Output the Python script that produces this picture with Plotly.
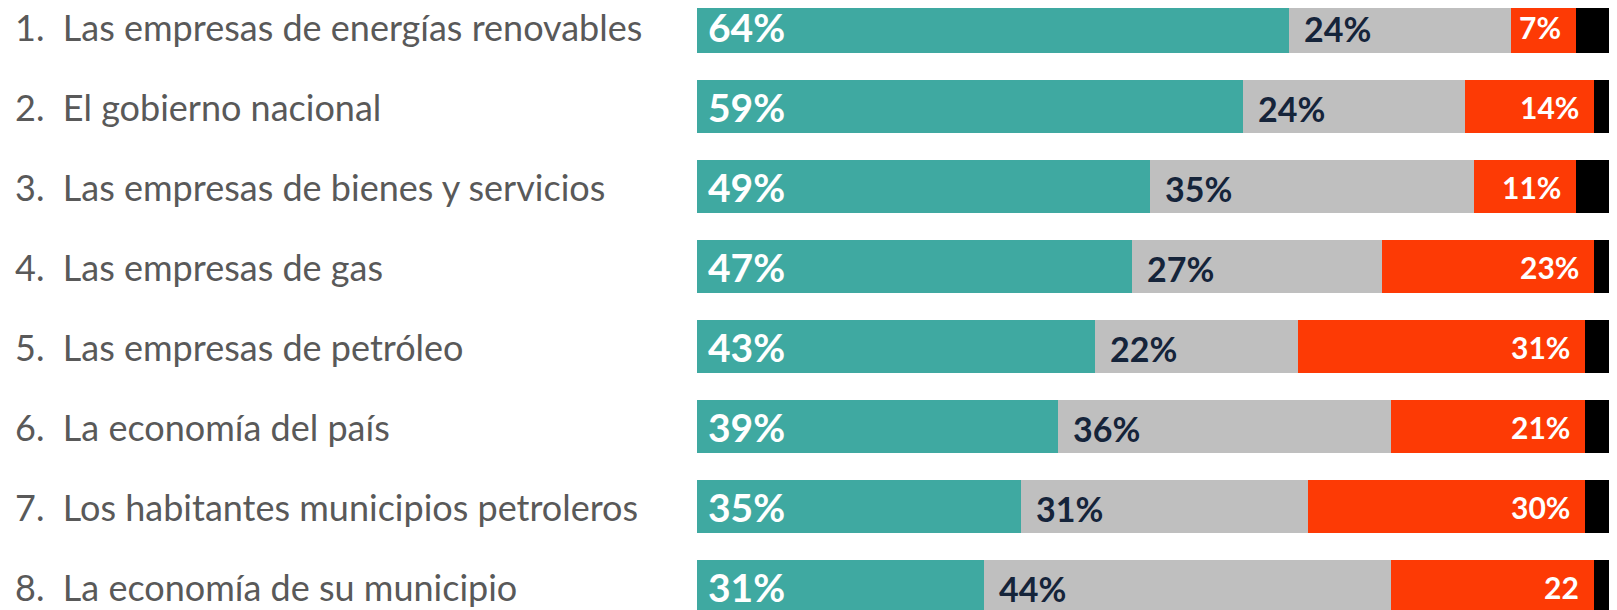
import plotly.graph_objects as go

# Items (top to bottom) and their shares in %
labels = [
    "1.  Las empresas de energías renovables",
    "2.  El gobierno nacional",
    "3.  Las empresas de bienes y servicios",
    "4.  Las empresas de gas",
    "5.  Las empresas de petróleo",
    "6.  La economía del país",
    "7.  Los habitantes municipios petroleros",
    "8.  La economía de su municipio",
]
positive = [64, 59, 49, 47, 43, 39, 35, 31]
neutral = [24, 24, 35, 27, 22, 36, 31, 44]
negative = [7, 14, 11, 23, 31, 21, 30, 22]
no_answer = [5, 3, 5, 3, 4, 4, 4, 3]
negative_text = ["7%", "14%", "11%", "23%", "31%", "21%", "30%", "22"]

TEAL = "#3FA9A1"
GREY = "#BFBFBF"
RED = "#FD3A05"
BLACK = "#000000"
NAVY = "#15243A"

rows = list(range(len(labels)))
bar_w = 0.6625

fig = go.Figure()
for vals, color in [(positive, TEAL), (neutral, GREY), (negative, RED), (no_answer, BLACK)]:
    fig.add_trace(go.Bar(
        y=rows, x=vals, orientation="h", width=bar_w,
        marker=dict(color=color, line=dict(width=0)),
        hoverinfo="skip", showlegend=False,
    ))

annotations = []
for i in rows:
    # left-hand item labels
    annotations.append(dict(
        x=-(689 - 5) / 920, y=i, xref="paper", yref="y",
        text=labels[i], showarrow=False, xanchor="left", yanchor="middle",
        font=dict(family="Lato", size=36, color="#595959"),
    ))
    # positive share, white, left inside the teal part
    annotations.append(dict(
        x=0, y=i, xref="x", yref="y", xanchor="left", yanchor="middle",
        xshift=9, text=f"{positive[i]}%", showarrow=False,
        font=dict(family="Lato", size=39, color="white", weight="bold"),
    ))
    # neutral share, navy, left inside the grey part
    annotations.append(dict(
        x=positive[i], y=i, xref="x", yref="y", xanchor="left", yanchor="middle",
        xshift=13, yshift=-2, text=f"{neutral[i]}%", showarrow=False,
        font=dict(family="Lato", size=34, color=NAVY, weight="bold"),
    ))
    # negative share, white, right inside the red part
    annotations.append(dict(
        x=positive[i] + neutral[i] + negative[i], y=i, xref="x", yref="y",
        xanchor="right", yanchor="middle", xshift=-13, text=negative_text[i],
        showarrow=False,
        font=dict(family="Lato", size=30, color="white", weight="bold"),
    ))

# the page adds an 8px body margin, so the figure is 8px smaller each way
fig.update_layout(
    barmode="stack",
    width=1609, height=602,
    margin=dict(l=689, r=0, t=0, b=0),
    paper_bgcolor="white", plot_bgcolor="white",
    bargap=0,
    xaxis=dict(range=[0, 920 / 9.25], visible=False, fixedrange=True),
    yaxis=dict(range=[7.291, -0.234], visible=False, fixedrange=True),
    annotations=annotations,
)

fig.write_html("out.html")
